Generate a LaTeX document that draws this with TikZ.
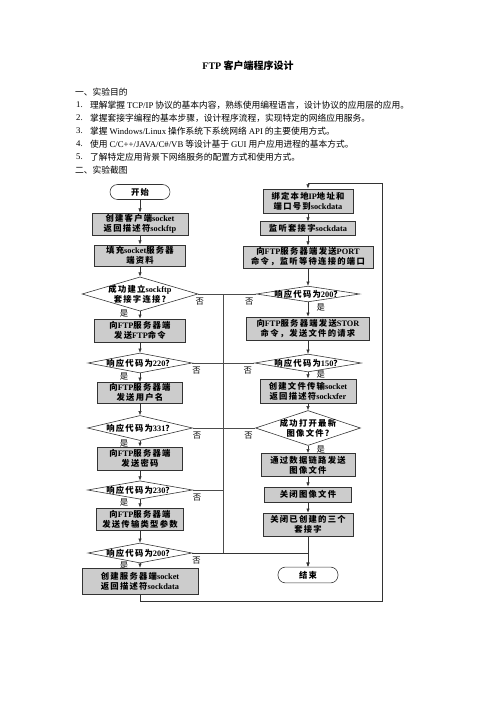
\documentclass[tikz,border=0pt]{standalone}
\usepackage{fontspec}
\setmainfont{Noto Sans CJK SC}
\newfontfamily\enfont{Liberation Serif}
\newfontfamily\fcfont[LetterSpace=15]{Noto Sans CJK SC}
\newcommand{\en}[1]{{\enfont #1}}
\usetikzlibrary{shapes.geometric,arrows.meta}
\tikzset{
  body/.style={font=\fontsize{10.5}{12}\selectfont, inner sep=0pt},
  proc/.style={draw=black!80, fill=black!20, line width=0.9pt, align=center, inner sep=1pt, font=\fcfont\bfseries\fontsize{10}{12}\selectfont},
  term/.style={draw=black!80, line width=0.7pt, rounded corners=9pt, minimum width=72pt, font=\fcfont\bfseries\fontsize{10}{12}\selectfont},
  dec/.style={draw=black!80, line width=0.7pt, diamond, inner sep=0pt},
  dtext/.style={align=center, font=\fcfont\bfseries\fontsize{10}{12}\selectfont},
  flow/.style={draw=black!80, line width=0.6pt, -{Latex[length=5pt,width=4pt]}},
  line/.style={draw=black!70, line width=0.5pt},
  lab/.style={font=\fontsize{10}{12}\selectfont, inner sep=1pt}
}
\begin{document}
\begin{tikzpicture}[x=1.2pt, y=-1.2pt]
  \useasboundingbox (0,0) rectangle (496,702);

  % heading and aims
  \node[font=\bfseries\fontsize{12}{14}\selectfont] (title) at (248,66) {\en{FTP} 客户端程序设计};
  \node[body, anchor=west] (h1) at (75,92) {一、实验目的};
  \node[body, anchor=west] (n1) at (76,105) {\en{1.}};
  \node[body, anchor=west] (t1) at (90,105) {理解掌握 \en{TCP/IP} 协议的基本内容，熟练使用编程语言，设计协议的应用层的应用。};
  \node[body, anchor=west] (n2) at (76,118) {\en{2.}};
  \node[body, anchor=west] (t2) at (90,118) {掌握套接字编程的基本步骤，设计程序流程，实现特定的网络应用服务。};
  \node[body, anchor=west] (n3) at (76,131) {\en{3.}};
  \node[body, anchor=west] (t3) at (90,131) {掌握 \en{Windows/Linux} 操作系统下系统网络 \en{API} 的主要使用方式。};
  \node[body, anchor=west] (n4) at (76,144) {\en{4.}};
  \node[body, anchor=west] (t4) at (90,144) {使用 \en{C/C++/JAVA/C\#/VB} 等设计基于 \en{GUI} 用户应用进程的基本方式。};
  \node[body, anchor=west] (n5) at (76,157) {\en{5.}};
  \node[body, anchor=west] (t5) at (90,157) {了解特定应用背景下网络服务的配置方式和使用方式。};
  \node[body, anchor=west] (h2) at (75,170) {二、实验截图};

  % left column: control connection
  \node[term, minimum height=18pt] (start) at (140,192) {开始};
  \node[proc, minimum width=115pt, minimum height=26.5pt] (b1) at (140,224) {创建客户端\en{socket}\\返回描述符\en{sockftp}};
  \node[proc, minimum width=109pt, minimum height=25.5pt] (b2) at (140,255.5) {填充\en{socket}服务器\\端资料};
  \node[dec, minimum width=139pt, minimum height=41pt, label={[dtext]center:{成功建立\en{sockftp}\\套接字连接?}}] (d1) at (140,294) {};
  \node[proc, minimum width=109pt, minimum height=27.5pt] (b3) at (140,330.5) {向\en{FTP}服务器端\\发送\en{FTP}命令};
  \node[dec, minimum width=125pt, minimum height=24pt, label={[dtext]center:{响应代码为\en{220}？}}] (d2) at (140,363) {};
  \node[proc, minimum width=102pt, minimum height=25pt] (b4) at (140,392.5) {向\en{FTP}服务器端\\发送用户名};
  \node[dec, minimum width=126pt, minimum height=30pt, label={[dtext]center:{响应代码为\en{331}？}}] (d3) at (140,428) {};
  \node[proc, minimum width=102pt, minimum height=27.5pt] (b5) at (140,458.5) {向\en{FTP}服务器端\\发送密码};
  \node[dec, minimum width=126pt, minimum height=22pt, label={[dtext]center:{响应代码为\en{230}？}}] (d4) at (140,490) {};
  \node[proc, minimum width=104pt, minimum height=26.5pt] (b6) at (140,519) {向\en{FTP}服务器端\\发送传输类型参数};
  \node[dec, minimum width=125pt, minimum height=24pt, label={[dtext]center:{响应代码为\en{200}？}}] (d5) at (140,553) {};
  \node[proc, minimum width=139pt, minimum height=32pt] (b7) at (140,581.5) {创建服务器端\en{socket}\\返回描述符\en{sockdata}};

  % right column: data connection
  \node[proc, minimum width=108pt, minimum height=29pt] (r1) at (308,201) {绑定本地\en{IP}地址和\\端口号到\en{sockdata}};
  \node[proc, minimum width=114pt, minimum height=16pt] (r2) at (308,228.5) {监听套接字\en{sockdata}};
  \node[proc, minimum width=156pt, minimum height=26.5pt] (r3) at (308,257) {向\en{FTP}服务器端发送\en{PORT}\\命令，监听等待连接的端口};
  \node[dec, minimum width=124pt, minimum height=19pt, label={[dtext]center:{响应代码为\en{200}？}}] (rd1) at (308,294) {};
  \node[proc, minimum width=148pt, minimum height=27.5pt] (r4) at (308,328.5) {向\en{FTP}服务器端发送\en{STOR}\\命令，发送文件的请求};
  \node[dec, minimum width=128pt, minimum height=21.5pt, label={[dtext]center:{响应代码为\en{150}？}}] (rd2) at (308,363) {};
  \node[proc, minimum width=115pt, minimum height=29pt] (r5) at (308,391) {创建文件传输\en{socket}\\返回描述符\en{sockxfer}};
  \node[dec, minimum width=126pt, minimum height=42pt, label={[dtext]center:{成功打开最新\\图像文件?}}] (rd3) at (308,428) {};
  \node[proc, minimum width=113pt, minimum height=27.5pt] (r6) at (308,465) {通过数据链路发送\\图像文件};
  \node[proc, minimum width=104pt, minimum height=18pt] (r7) at (308,494.5) {关闭图像文件};
  \node[proc, minimum width=108pt, minimum height=27.5pt] (r8) at (308,524.5) {关闭已创建的三个\\套接字};
  \node[term, minimum height=19pt] (stop) at (308,575) {结束};

  \coordinate (bt) at (223,294);
  \coordinate (bb) at (223,553);
  \coordinate (lpr) at (382,601);
  \coordinate (lpt) at (308,183);

  % left flow
  \draw[flow] (start) -- (b1);
  \draw[flow] (b1) -- (b2);
  \draw[flow] (b2) -- (d1);
  \draw[flow] (d1) -- node[lab, pos=0.3, left=13pt] {是} (b3);
  \draw[flow] (b3) -- (d2);
  \draw[flow] (d2) -- node[lab, pos=0.4, left=13pt] {是} (b4);
  \draw[flow] (b4) -- (d3);
  \draw[flow] (d3) -- node[lab, pos=0.4, left=13pt] {是} (b5);
  \draw[flow] (b5) -- (d4);
  \draw[flow] (d4) -- node[lab, pos=0.4, left=13pt] {是} (b6);
  \draw[flow] (b6) -- (d5);
  \draw[flow] (d5) -- node[lab, pos=0.4, left=13pt] {是} (b7);

  % right flow
  \draw[flow] (r1) -- (r2);
  \draw[flow] (r2) -- (r3);
  \draw[flow] (r3) -- (rd1);
  \draw[flow] (rd1) -- node[lab, pos=0.4, right=9pt] {是} (r4);
  \draw[flow] (r4) -- (rd2);
  \draw[flow] (rd2) -- node[lab, pos=0.4, right=9pt] {是} (r5);
  \draw[flow] (r5) -- (rd3);
  \draw[flow] (rd3) -- node[lab, pos=0.5, right=9pt] {是} (r6);
  \draw[flow] (r6) -- (r7);
  \draw[flow] (r7) -- (r8);
  \draw[flow] (r8) -- (stop);

  % no-branches to the end
  \draw[line] (d1.east) -- node[lab, pos=0, below=3pt, xshift=2pt] {否} node[lab, pos=1, below=3pt, xshift=-8pt] {否} (rd1.west);
  \draw[line] (d2.east) -- node[lab, pos=0, below=3pt, xshift=5pt] {否} node[lab, pos=1, below=3pt, xshift=-8pt] {否} (rd2.west);
  \draw[line] (d3.east) -- node[lab, pos=0, below=3pt, xshift=5pt] {否} node[lab, pos=1, below=3pt, xshift=-8pt] {否} (rd3.west);
  \draw[line] (d4.east) -- node[lab, pos=0, below=3pt, xshift=5pt] {否} (d4.east -| bt);
  \draw[line] (bt) -- (bb);
  \draw[flow] (d5.east) -- node[lab, pos=0, below=3pt, xshift=5pt] {否} (d5.east -| stop) -- (stop);

  % back to the data socket
  \draw[flow] (b7) |- (lpr) |- (lpt) -- (r1);
\end{tikzpicture}
\end{document}
